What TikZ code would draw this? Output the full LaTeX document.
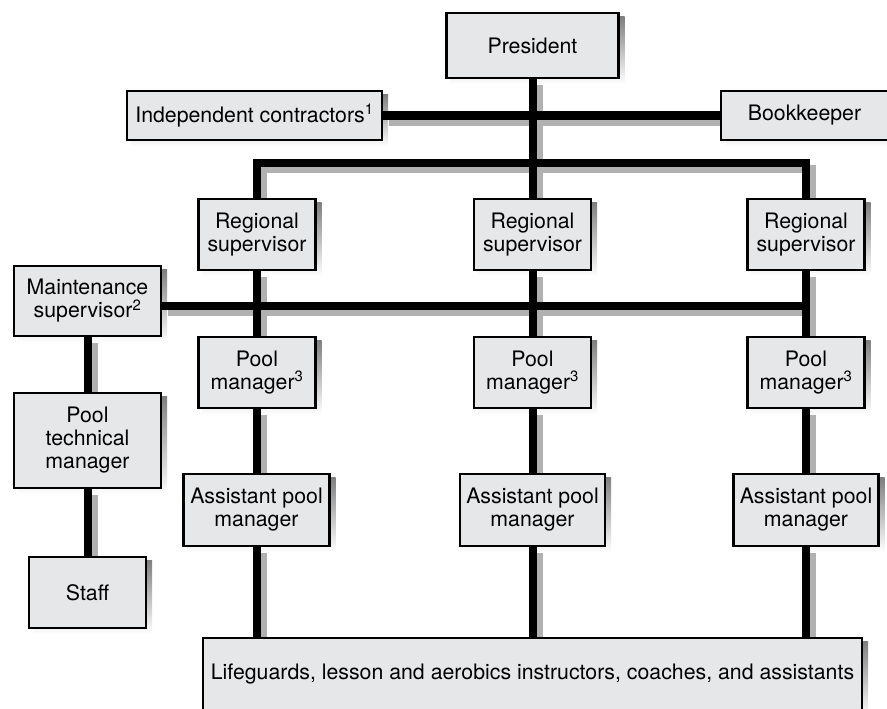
\documentclass[tikz,border=0pt]{standalone}
\usepackage{fontspec}
\setmainfont{TeX Gyre Heros}
\pgfdeclarelayer{shadow}
\pgfdeclarelayer{wires}
\pgfsetlayers{shadow,wires,main}
\definecolor{boxfill}{HTML}{E6E7E8}
\definecolor{shade}{HTML}{B1B1B1}

% all connectors of the chart, drawn once as shadow and once in black
\newcommand\orgwires[1]{%
  \draw[#1] (pres.south) -- (pres.south |- reg2.north);
  \draw[#1] (ind.east) -- (book.west);
  \draw[#1] (reg1.north) |- (hub) -| (reg3.north);
  \draw[#1] (maint.east |- mjoin) -- (mjoin);
  \draw[#1] (reg1.south) -- (reg1.south |- pm1.north);
  \draw[#1] (reg2.south) -- (reg2.south |- pm2.north);
  \draw[#1] (reg3.south) -- (reg3.south |- pm3.north);
  \draw[#1] (pm1.south) -- (pm1.south |- apm1.north);
  \draw[#1] (pm2.south) -- (pm2.south |- apm2.north);
  \draw[#1] (pm3.south) -- (pm3.south |- apm3.north);
  \draw[#1] (apm1.south) -- (apm1.south |- life.north);
  \draw[#1] (apm2.south) -- (apm2.south |- life.north);
  \draw[#1] (apm3.south) -- (apm3.south |- life.north);
  \draw[#1] (maint.south) -- (maint.south |- ptm.north);
  \draw[#1] (ptm.south) -- (ptm.south |- staff.north);
}
\newcommand\boxshade[1]{%
  \fill[shade] ([xshift=5pt,yshift=-5pt]#1.south west) rectangle ([xshift=5pt,yshift=-5pt]#1.north east);
}

\begin{document}
\begin{tikzpicture}[x=1pt,y=-1pt,
  orgbox/.style={draw=black, line width=2.4pt, fill=boxfill, inner sep=0pt,
    align=center, font=\fontsize{21.3}{23}\selectfont},
  wire/.style={line width=8pt, line cap=butt, line join=miter},
  wireshade/.style={wire, draw=shade, transform canvas={xshift=6pt,yshift=-6pt}},
]
\useasboundingbox (0,0) rectangle (887,709);

% boxes
\node[orgbox, minimum width=172pt, minimum height=65pt] (pres) at (532.5,45.5) {President};
\node[orgbox, minimum width=255pt, minimum height=49pt] (ind) at (254.5,115.5) {Independent contractors\textsuperscript{1}};
\node[orgbox, minimum width=167pt, minimum height=49pt] (book) at (804.5,115.5) {Bookkeeper};

\node[orgbox, minimum width=117pt, minimum height=71pt] (reg1) at (257,234.5) {Regional\\supervisor};
\node[orgbox, minimum width=117pt, minimum height=71pt] (reg2) at (532.5,234.5) {Regional\\supervisor};
\node[orgbox, minimum width=117pt, minimum height=71pt] (reg3) at (806,234.5) {Regional\\supervisor};

\node[orgbox, minimum width=147pt, minimum height=70pt] (maint) at (87.5,301) {Maintenance\\supervisor\textsuperscript{2}};

\node[orgbox, minimum width=117pt, minimum height=71pt] (pm1) at (257,372.5) {Pool\\manager\textsuperscript{3}};
\node[orgbox, minimum width=117pt, minimum height=71pt] (pm2) at (532.5,372.5) {Pool\\manager\textsuperscript{3}};
\node[orgbox, minimum width=117pt, minimum height=71pt] (pm3) at (806,372.5) {Pool\\manager\textsuperscript{3}};

\node[orgbox, minimum width=147pt, minimum height=95pt] (ptm) at (87.5,440.5) {Pool\\technical\\manager};

\node[orgbox, minimum width=146pt, minimum height=72pt] (apm1) at (256.5,510) {Assistant pool\\manager};
\node[orgbox, minimum width=145pt, minimum height=72pt] (apm2) at (532.5,510) {Assistant pool\\manager};
\node[orgbox, minimum width=145pt, minimum height=72pt] (apm3) at (806,510) {Assistant pool\\manager};

\node[orgbox, minimum width=117pt, minimum height=71pt] (staff) at (87.5,592.5) {Staff};

\node[orgbox, minimum width=659pt, minimum height=73pt] (life) at (532.5,674.5)
  {Lifeguards, lesson and aerobics instructors, coaches, and assistants};

% junction points of the bars
\coordinate (hub) at (532.5,163);
\coordinate (mjoin) at (806,306);

% shadows under boxes and bars
\begin{pgfonlayer}{shadow}
  \foreach \n in {pres,ind,book,reg1,reg2,reg3,maint,pm1,pm2,pm3,ptm,apm1,apm2,apm3,staff,life}
    {\boxshade{\n}}
  \orgwires{wireshade}
\end{pgfonlayer}

% black bars
\begin{pgfonlayer}{wires}
  \orgwires{wire}
\end{pgfonlayer}
\end{tikzpicture}
\end{document}
